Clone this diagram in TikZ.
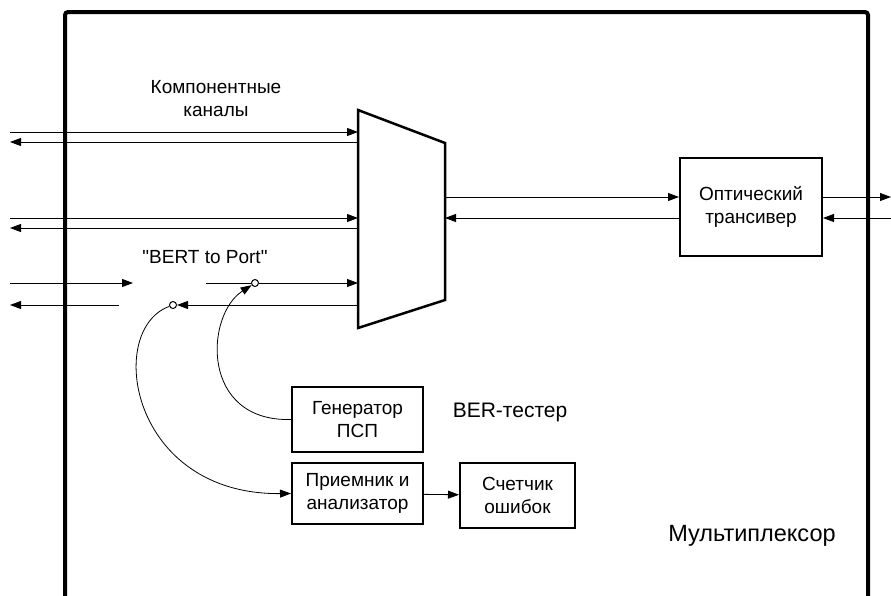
\documentclass[tikz,border=0pt]{standalone}
\usepackage{fontspec}
\setmainfont{Liberation Sans}[Ligatures=TeXOff]
\usetikzlibrary{arrows.meta}

\tikzset{
  blk/.style={draw, line width=2pt, align=center, inner sep=0pt},
  sig/.style={line width=0.8pt, -{Triangle[length=11pt,width=8pt]}},
  pin/.style={draw, circle, line width=1pt, inner sep=0pt, minimum size=7pt, fill=white},
}

\begin{document}
\begin{tikzpicture}[x=1pt, y=-1pt, font=\fontsize{19}{23}\selectfont]

  \useasboundingbox (0,0) rectangle (891,595);

  % Multiplexer frame
  \draw [line width=4pt, rounded corners=3pt] (65,600) -- (65,12) -- (868,12) -- (868,600);

  % Mux body points
  \coordinate (M0) at (358,110);
  \coordinate (M1) at (445,143);
  \coordinate (M2) at (445,300);
  \coordinate (M3) at (358,328);
  \draw [line width=2.5pt] (M0) -- (M1) -- (M2) -- (M3) -- cycle;

  % Component channels
  \foreach \y/\n in {132/1, 218/2} {
    \coordinate (in\n) at (10,\y);
    \coordinate (mi\n) at (358,\y);
    \coordinate (out\n) at (10,\y+10);
    \coordinate (mo\n) at (358,\y+10);
    \draw [sig] (in\n) -- (mi\n);
    \draw [sig] (mo\n) -- (out\n);
  }

  % "BERT to Port" channel
  \coordinate (in3) at (10,283);
  \coordinate (gapL) at (133,283);
  \coordinate (gapR) at (206,283);
  \coordinate (mi3) at (358,283);
  \coordinate (mo3) at (358,305);
  \coordinate (cut3) at (119,305);
  \coordinate (out3) at (10,305);
  \node [pin] (sw1) at (255,283) {};
  \node [pin] (sw2) at (173,305) {};
  \draw [sig] (in3) -- (gapL);
  \draw [line width=0.8pt] (gapR) -- (sw1);
  \draw [sig] (sw1) -- (mi3);
  \draw [sig] (mo3) -- (sw2);
  \draw [sig] (cut3) -- (out3);

  % Blocks
  \node [blk, minimum width=142pt, minimum height=98pt] (otr) at (751,207) {Оптический\\трансивер};
  \node [blk, minimum width=131pt, minimum height=65pt] (gen) at (357.5,419.5) {Генератор\\ПСП};
  \node [blk, minimum width=131pt, minimum height=61pt] (rcv) at (357.5,493.5) {Приемник и\\анализатор};
  \node [blk, minimum width=115pt, minimum height=65pt] (cnt) at (517.5,495.5) {Счетчик\\ошибок};

  % Line side
  \coordinate (tx) at (445,197);
  \coordinate (rx) at (445,218);
  \coordinate (ftx) at (891,197);
  \coordinate (frx) at (891,218);
  \draw [sig] (tx) -- (tx -| otr.west);
  \draw [sig] (rx -| otr.west) -- (rx);
  \draw [sig] (ftx -| otr.east) -- (ftx);
  \draw [sig] (frx) -- (frx -| otr.east);

  % BER tester links
  \draw [sig] (gen.west) .. controls (200,422) and (205,315) .. (sw1);
  \draw [sig] (sw2) .. controls (105,330) and (130,495) .. (rcv.west);
  \draw [sig] (rcv) -- (cnt);

  % Labels
  \node [align=center] (chan) at (216,99) {Компонентные\\каналы};
  \node (bert) at (205,257) {"BERT to Port"};
  \node [font=\fontsize{21}{25}\selectfont] (ber) at (510,412) {BER-тестер};
  \node [font=\fontsize{23.5}{28}\selectfont] (mux) at (752,536) {Мультиплексор};

\end{tikzpicture}
\end{document}
